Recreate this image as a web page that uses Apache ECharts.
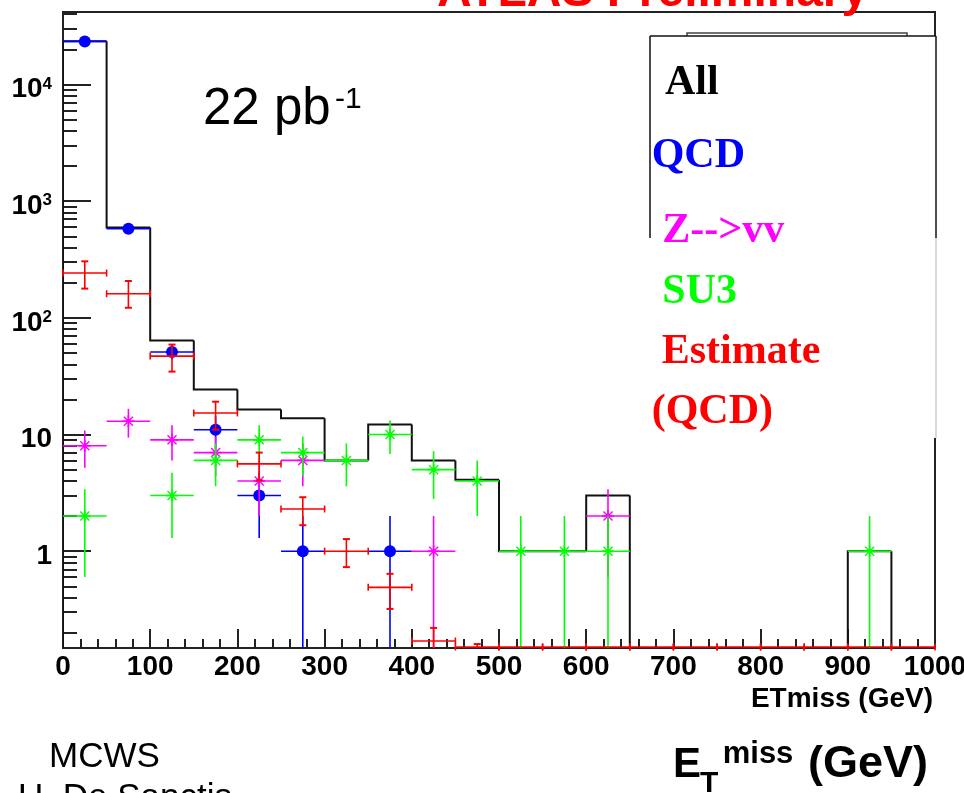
<!DOCTYPE html>
<html><head><meta charset="utf-8">
<script src="https://cdn.jsdelivr.net/npm/echarts@6/dist/echarts.min.js"></script>
<style>html,body{margin:0;padding:0;background:#fff}#c{width:964px;height:793px}</style>
</head><body><div id="c"></div>
<script>
// ---------- data ----------
const binEdges   = [0,50,100,150,200,250,300,350,400,450,500,550,600,650,700,750,800,850,900,950,1000];
const binCenters = [25,75,125,175,225,275,325,375,425,475,525,575,625,675,725,775,825,875,925,975];
const allCounts  = [23500,594,64,24.3,16.4,13.8,6,12.2,6,4.1,1,1,3,0,0,0,0,0,1,0];
const qcdCounts  = [23400,580,51,11,3,1,0,1,0,0,0,0,0,0,0,0,0,0,0,0];
const qcdErrors  = [153,24,7.1,3.3,1.7,1,0,1,0,0,0,0,0,0,0,0,0,0,0,0];
const zvvCounts  = [8,13,9,7,4,6,0,0,1,0,0,0,2,0,0,0,0,0,0,0];
const zvvErrors  = [2.8,3.6,3,2.6,2,2.4,0,0,1,0,0,0,1.4,0,0,0,0,0,0,0];
const su3Counts  = [2,0,3,6,9,7,6,10,5,4,1,1,1,0,0,0,0,0,1,0];
const su3Errors  = [1.4,0,1.7,2.4,3,2.6,2.4,3.2,2.2,2,1,1,1,0,0,0,0,0,1,0];
const estCounts  = [242,161,47,15.3,5.6,2.3,1.0,0.49,0.17,0,0,0,0,0,0,0,0,0,0,0];
const estErrUp   = [63,46,12,3.8,1.4,0.6,0.27,0.15,0.05,0.16,0,0,0,0,0,0,0,0,0,0];
const estErrDown = [64,39,12.4,4.3,1.55,0.63,0.27,0.17,0.17,0,0,0,0,0,0,0,0,0,0,0];
const xTickValues = [0,100,200,300,400,500,600,700,800,900,1000];
const yTickValues = [1,10,100,1000,10000];
const yTickLabels = ['1','10','10^2','10^3','10^4'];
const yMinorTicks = [0.2,0.3,0.4,0.5,0.6,0.7,0.8,0.9,2,3,4,5,6,7,8,9,20,30,40,50,60,70,80,90,
                     200,300,400,500,600,700,800,900,2000,3000,4000,5000,6000,7000,8000,9000,20000,30000,40000];
const yMin = 0.148, yMax = 41800;

const SANS = '"Liberation Sans", Arial, sans-serif';
const SERIF = '"Liberation Serif", "Times New Roman", serif';

// ---------- renderers ----------
function histRender(params, api) {
  const cs = params.coordSys, bottom = cs.y + cs.height;
  const lo = api.value(0), hi = api.value(1), v = api.value(2), pv = api.value(3);
  const yv = v > 0 ? api.coord([lo, v])[1] : bottom;
  const ypv = pv > 0 ? api.coord([lo, pv])[1] : bottom;
  const xl = api.coord([lo, 1])[0], xh = api.coord([hi, 1])[0];
  return {type:'polyline', shape:{points:[[xl,ypv],[xl,yv],[xh,yv]]},
          style:{stroke:'#111', lineWidth:2, fill:null, lineJoin:'miter'}};
}
function errRender(color, marker, caps) {
  return function(params, api) {
    const cs = params.coordSys, bottom = cs.y + cs.height;
    const xc = api.value(0), lo = api.value(1), hi = api.value(2), v = api.value(3), eu = api.value(4), ed = api.value(5);
    const y = v > 0 ? api.coord([xc, v])[1] : bottom - 1;
    const yUp = (v + eu) > 0 ? api.coord([xc, v + eu])[1] : bottom;
    const yDn = (v - ed) > 0 ? api.coord([xc, v - ed])[1] : bottom;
    const x = api.coord([xc, 1])[0], xl = api.coord([lo, 1])[0], xh = api.coord([hi, 1])[0];
    const L = (a,b,c,d,w) => ({type:'line', shape:{x1:a,y1:b,x2:c,y2:d}, style:{stroke:color, lineWidth:w||1.6}});
    const ch = [L(xl,y,xh,y)];
    if (eu > 0 || ed > 0) ch.push(L(x,yUp,x,yDn));
    if (caps) {
      ch.push(L(xl,y-3.5,xl,y+3.5), L(xh,y-3.5,xh,y+3.5));
      if (eu > 0) ch.push(L(x-3.5,yUp,x+3.5,yUp,2));
      if (ed > 0 && v - ed > 0) { ch.push(L(x-3.5,yDn,x+3.5,yDn,2)); }
    }
    if (marker === 'circle') {
      ch.push({type:'circle', shape:{cx:x, cy:y, r:6}, style:{fill:color}});
    } else if (marker === 'star') {
      const d = 4.5, a = 6;
      ch.push(L(x-d,y-d,x+d,y+d,1.4), L(x-d,y+d,x+d,y-d,1.4), L(x-a,y,x+a,y), L(x,y-a,x,y+a));
      ch.push({type:'circle', shape:{cx:x, cy:y, r:2.2}, style:{fill:color}});
    }
    return {type:'group', children:ch};
  };
}
function errData(counts, up, down, keepZero) {
  const out = [];
  counts.forEach((c, i) => {
    if (c > 0 || keepZero) out.push([binCenters[i], binEdges[i], binEdges[i+1], c, up[i], down[i]]);
  });
  return out;
}
const histData = allCounts.map((c, i) => [binEdges[i], binEdges[i+1], c, i > 0 ? allCounts[i-1] : 0]);

// ---------- chart ----------
const chart = echarts.init(document.getElementById('c'), null, {renderer:'canvas'});
const T = (text, x, y, size, color, family, weight) => ({
  type:'text', z:100,
  style:{text:text, x:x, y:y, fill:color, font:(weight||'normal') + ' ' + size + 'px ' + family,
         align:'left', verticalAlign:'middle', textAlign:'left', textVerticalAlign:'middle'}
});
const GL = (x1,y1,x2,y2,color,w) => ({type:'line', z:100, shape:{x1,y1,x2,y2}, style:{stroke:color, lineWidth:w||1.5}});

chart.setOption({
  animation:false,
  grid:{left:63, top:12, width:872, height:636, outerBoundsMode:'none', containLabel:false,
        show:true, borderColor:'#222', borderWidth:2, backgroundColor:'transparent'},
  xAxis:{
    type:'value', min:0, max:1000, interval:100,
    axisLine:{lineStyle:{color:'#222', width:2}},
    axisTick:{inside:true, length:19, lineStyle:{color:'#222', width:2}},
    minorTick:{show:true, splitNumber:5, length:9, lineStyle:{color:'#222', width:2}},
    splitLine:{show:false},
    axisLabel:{margin:5, fontSize:28, fontWeight:'bold', fontFamily:SANS, color:'#000',
               formatter: v => xTickValues.indexOf(v) >= 0 ? String(v) : ''},
    name:'ETmiss (GeV)', nameLocation:'end', nameGap:0,
    nameTextStyle:{align:'right', verticalAlign:'top', fontSize:28, fontWeight:'bold', fontFamily:SANS, color:'#000', padding:[37,2,0,0]}
  },
  yAxis:[{
    type:'log', logBase:10, min:yMin, max:yMax,
    axisLine:{show:true, lineStyle:{color:'#222', width:2}},
    axisTick:{show:true, inside:true, length:28, customValues:yTickValues, lineStyle:{color:'#222', width:2}},
    splitLine:{show:false},
    axisLabel:{show:true, customValues:yTickValues, margin:11, align:'right', padding:[10,0,0,0],
      formatter: function(v){
        let idx = 0, best = 1e9;
        yTickValues.forEach((t,i)=>{ const d = Math.abs(Math.log10(t) - Math.log10(v)); if (d < best){best=d; idx=i;} });
        const s = yTickLabels[idx];
        if (s.indexOf('^') >= 0) { const p = s.split('^'); return '{b|' + p[0] + '}{s|' + p[1] + '}'; }
        return '{b|' + s + '}';
      },
      rich:{
        b:{fontSize:28, fontWeight:'bold', fontFamily:SANS, color:'#000'},
        s:{fontSize:17, fontWeight:'bold', fontFamily:SANS, color:'#000', verticalAlign:'top'}
      }
    }
  },{
    type:'log', logBase:10, min:yMin, max:yMax, position:'left',
    axisLine:{show:false}, axisLabel:{show:false}, splitLine:{show:false},
    axisTick:{show:true, inside:true, length:14, customValues:yMinorTicks, lineStyle:{color:'#222', width:2}}
  }],
  series:[
    {type:'custom', name:'All', renderItem:histRender, data:histData, encode:{x:[0,1], y:2}, clip:true, silent:true},
    {type:'custom', name:'QCD', renderItem:errRender('#0000ff','circle',false), data:errData(qcdCounts,qcdErrors,qcdErrors,false), encode:{x:0, y:3}, clip:true, silent:true},
    {type:'custom', name:'Z-->vv', renderItem:errRender('#ff00ff','star',false), data:errData(zvvCounts,zvvErrors,zvvErrors,false), encode:{x:0, y:3}, clip:true, silent:true},
    {type:'custom', name:'SU3', renderItem:errRender('#00ff00','star',false), data:errData(su3Counts,su3Errors,su3Errors,false), encode:{x:0, y:3}, clip:true, silent:true},
    {type:'custom', name:'Estimate (QCD)', renderItem:errRender('#ff0000',null,true), data:errData(estCounts,estErrUp,estErrDown,true), encode:{x:0, y:3}, clip:false, silent:true}
  ],
  graphic:[
    T('ATLAS Preliminary', 437, -7, 48, '#ff0000', SANS, 'bold'),
    T('22 pb', 203, 109.5, 51, '#000', SANS),
    T('-1', 335, 100, 30, '#000', SANS),
    {type:'rect', z:99, shape:{x:687, y:33, width:220, height:10}, style:{fill:'#fff', stroke:'#444', lineWidth:1.5}},
    {type:'rect', z:100, shape:{x:650, y:36, width:286, height:402}, style:{fill:'#fff'}},
    GL(650,36,936,36,'#111',1.5), GL(650,36,650,238,'#111',1.5), GL(936,36,936,238,'#111',1.5), GL(936,238,936,438,'#cccccc',1.5),
    T('All', 665, 82.8, 42, '#000', SERIF, 'bold'),
    T('QCD', 651.7, 156.4, 42, '#0000ff', SERIF, 'bold'),
    T('Z-->vv', 662.3, 230.7, 42, '#ff00ff', SERIF, 'bold'),
    T('SU3', 662.3, 292.4, 42, '#00ff00', SERIF, 'bold'),
    T('Estimate', 661.7, 352.4, 42, '#ff0000', SERIF, 'bold'),
    T('(QCD)', 651.7, 412.4, 42, '#ff0000', SERIF, 'bold'),
    T('MCWS', 49, 757, 35, '#000', SANS),
    T('U. De Sanctis', 18, 798, 35, '#000', SANS),
    T('E', 673, 765.3, 42, '#000', SANS, 'bold'),
    T('T', 700, 784, 30, '#000', SANS, 'bold'),
    T('miss', 722.7, 754, 31, '#000', SANS, 'bold'),
    T('(GeV)', 808, 764.6, 45, '#000', SANS, 'bold')
  ]
});
</script></body></html>
